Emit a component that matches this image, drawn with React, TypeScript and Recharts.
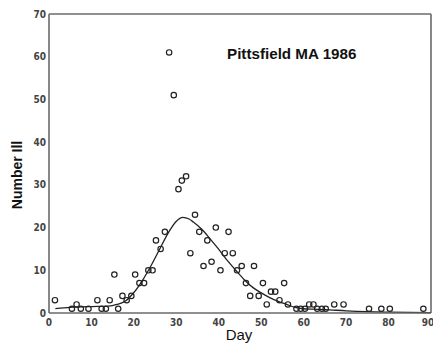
import { ComposedChart, Scatter, Line, XAxis, YAxis, ReferenceArea } from 'recharts';

// observed cases (day, number ill)
const obsDays = [
  1.4, 5.4, 6.5, 7.5, 9.3, 11.4, 12.4, 13.4, 14.3, 15.4, 16.3, 17.3, 18.3, 19.4, 20.3,
  21.3, 22.4, 23.4, 24.4, 25.2, 26.3, 27.3, 28.3, 29.4, 30.5, 31.3, 32.3, 33.3, 34.4,
  35.4, 36.4, 37.3, 38.3, 39.3, 40.4, 41.4, 42.3, 43.3, 44.3, 45.4, 46.4, 47.4, 48.3,
  49.4, 50.4, 51.3, 52.3, 53.3, 54.3, 55.4, 56.3, 58.3, 59.3, 60.3, 61.3, 62.3, 63.2,
  64.3, 65.2, 67.2, 69.4, 75.4, 78.3, 80.3, 88.2,
];
const obsIll = [
  3, 1, 2, 1, 1, 3, 1, 1, 3, 9, 1, 4, 3, 4, 9,
  7, 7, 10, 10, 17, 15, 19, 61, 51, 29, 31, 32, 14, 23,
  19, 11, 17, 12, 20, 10, 14, 19, 14, 10, 11, 7, 4, 11,
  4, 7, 2, 5, 5, 3, 7, 2, 1, 1, 1, 2, 2, 1,
  1, 1, 2, 2, 1, 1, 1, 1,
];

// fitted curve
const fitDays = [1.5, 5, 10, 14, 16, 18, 20, 22, 24, 26, 28, 30, 31.5, 33, 34, 36, 38, 40, 42, 44, 46, 48, 50, 52, 54, 56, 58, 60, 62, 65, 70, 75, 80, 90];
const fitIll = [1.0, 1.3, 1.5, 1.6, 2.0, 2.8, 4.8, 7.6, 11, 14.8, 18.6, 21.5, 22.4, 22, 21.3, 19.6, 17.3, 14.9, 12.3, 10, 7.8, 6, 4.7, 3.6, 2.7, 2, 1.3, 1.0, 0.9, 0.8, 0.5, 0.3, 0.2, 0.1];

const xTicks = [0, 10, 20, 30, 40, 50, 60, 70, 80, 90];
const yTicks = [0, 10, 20, 30, 40, 50, 60, 70];

const scatterData = obsDays.map((d, i) => ({ day: d, ill: obsIll[i] }));
const fitData = fitDays.map((d, i) => ({ day: d, fit: fitIll[i] }));

const axisColor = '#6a6a6a';
const tickFont = { fontSize: 10, fontWeight: 700, fill: '#444', fontFamily: '"Liberation Sans Narrow", "DejaVu Sans Condensed", sans-serif' };

const OpenCircle = (props: any) => {
  const { cx, cy } = props;
  if (cx == null || cy == null) return null;
  return <circle cx={cx} cy={cy} r={2.7} fill="none" stroke="#222" strokeWidth={1.2} />;
};

const blank = () => '';

export default function App() {
  return (
    <div style={{ position: 'absolute', left: 0, top: 0, width: 433, height: 344, background: '#fff' }}>
      <ComposedChart width={433} height={344} margin={{ top: 14, right: 2, left: 0, bottom: 0 }}>
        <XAxis
          dataKey="day"
          type="number"
          domain={[0, 90]}
          ticks={xTicks}
          height={31}
          tickSize={0}
          tickMargin={6}
          tickLine={false}
          axisLine={{ stroke: axisColor, strokeWidth: 1.6 }}
          tick={tickFont}
        />
        <XAxis xAxisId="bm" dataKey="day" type="number" domain={[0, 90]} ticks={xTicks} mirror
          tickSize={3} axisLine={false} tickLine={{ stroke: axisColor, strokeWidth: 1.2 }} tickFormatter={blank} />
        <XAxis xAxisId="tm" orientation="top" dataKey="day" type="number" domain={[0, 90]} ticks={xTicks} mirror
          tickSize={4} axisLine={{ stroke: axisColor, strokeWidth: 1.6 }} tickLine={{ stroke: axisColor, strokeWidth: 1.2 }} tickFormatter={blank} />
        <YAxis
          type="number"
          domain={[0, 70]}
          ticks={yTicks}
          width={49}
          tickSize={0}
          tickMargin={3}
          tickLine={false}
          axisLine={{ stroke: axisColor, strokeWidth: 1.6 }}
          tick={tickFont}
        />
        <YAxis yAxisId="lm" type="number" domain={[0, 70]} ticks={yTicks} mirror
          tickSize={3} axisLine={false} tickLine={{ stroke: axisColor, strokeWidth: 1.2 }} tickFormatter={blank} />
        <YAxis yAxisId="rm" orientation="right" type="number" domain={[0, 70]} ticks={yTicks} mirror
          tickSize={4} axisLine={{ stroke: axisColor, strokeWidth: 1.6 }} tickLine={{ stroke: axisColor, strokeWidth: 1.2 }} tickFormatter={blank} />
        <Line
          data={fitData}
          dataKey="fit"
          type="monotone"
          stroke="#222"
          strokeWidth={1.3}
          dot={false}
          isAnimationActive={false}
        />
        <Scatter data={scatterData} dataKey="ill" shape={<OpenCircle />} isAnimationActive={false} />
      </ComposedChart>
      <svg width={433} height={344} style={{ position: 'absolute', left: 0, top: 0, pointerEvents: 'none' }}>
        <text x={227} y={59} fontFamily='"Liberation Sans", Arial, sans-serif' fontWeight={700} fontSize={15.2} fill="#111">
          Pittsfield MA 1986
        </text>
        <text x={239} y={340} textAnchor="middle" fontFamily='"Liberation Sans", Arial, sans-serif' fontSize={15} fill="#111">
          Day
        </text>
        <text x={22} y={175} textAnchor="middle" transform="rotate(-90, 22, 175)" fontFamily='"Liberation Sans", Arial, sans-serif' fontWeight={700} fontSize={14} fill="#111">
          Number Ill
        </text>
      </svg>
    </div>
  );
}
